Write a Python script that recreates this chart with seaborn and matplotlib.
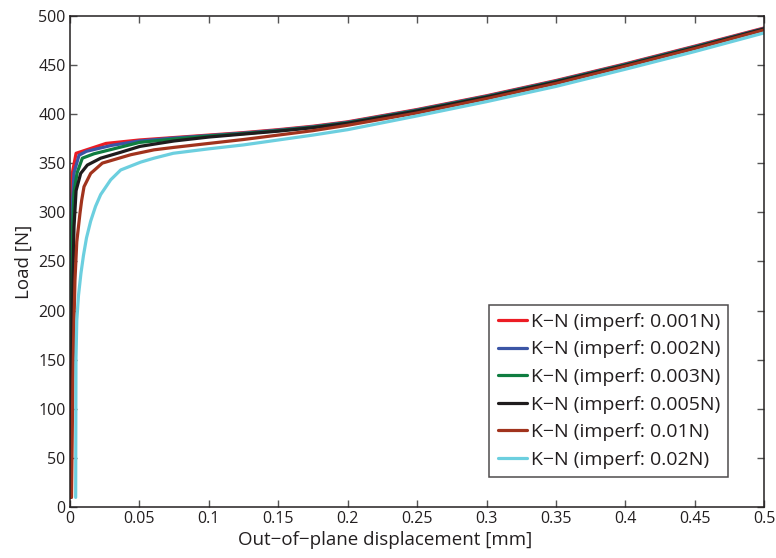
import numpy as np
import pandas as pd
import matplotlib
matplotlib.use("Agg")
import matplotlib.pyplot as plt
from matplotlib.ticker import FormatStrFormatter, MultipleLocator
import seaborn as sns

# Load vs. out-of-plane displacement for several force imperfections
labels = [
    "K−N (imperf: 0.001N)",
    "K−N (imperf: 0.002N)",
    "K−N (imperf: 0.003N)",
    "K−N (imperf: 0.005N)",
    "K−N (imperf: 0.01N)",
    "K−N (imperf: 0.02N)",
]
colors = ["#ec1c24", "#3b55a5", "#0f7d40", "#1f1c1d", "#a1331d", "#6ccfdf"]

disp_001 = [0.0002, 0.0004, 0.0009, 0.0018, 0.0045, 0.026, 0.05, 0.075, 0.10, 0.125, 0.15, 0.175, 0.20, 0.25, 0.30, 0.35, 0.40, 0.45, 0.50]
load_001 = [10, 200, 300, 340, 360, 370, 373.5, 376, 378.5, 381, 384, 387.5, 392, 404.5, 418.5, 434, 451, 469, 487.5]

disp_002 = [0.0003, 0.0007, 0.0015, 0.003, 0.0066, 0.012, 0.03, 0.05, 0.075, 0.10, 0.125, 0.15, 0.175, 0.20, 0.25, 0.30, 0.35, 0.40, 0.45, 0.50]
load_002 = [10, 200, 300, 340, 358, 362, 368, 372.5, 375.5, 378, 380.5, 383.5, 387, 391.5, 404, 418, 433.5, 450.5, 468.5, 487]

disp_003 = [0.0005, 0.001, 0.0018, 0.003, 0.0052, 0.009, 0.0174, 0.05, 0.075, 0.10, 0.125, 0.15, 0.175, 0.20, 0.25, 0.30, 0.35, 0.40, 0.45, 0.50]
load_003 = [10, 200, 280, 320, 340, 355, 359.5, 371, 374.5, 377.5, 380, 383, 386.5, 391, 403.5, 417.5, 433, 450, 468, 486.5]

disp_005 = [0.0008, 0.0012, 0.0022, 0.003, 0.0045, 0.0078, 0.0126, 0.0222, 0.0366, 0.0505, 0.075, 0.10, 0.125, 0.15, 0.175, 0.20, 0.25, 0.30, 0.35, 0.40, 0.45, 0.50]
load_005 = [10, 130, 231, 285, 322, 339.5, 348, 355, 361, 367, 372.5, 376.5, 379.5, 382.5, 386, 390.5, 403, 417, 432.5, 449.5, 467.5, 486.5]

disp_01 = [0.0012, 0.0022, 0.003, 0.0037, 0.005, 0.0073, 0.0085, 0.0102, 0.015, 0.0234, 0.0438, 0.0606, 0.075, 0.10, 0.125, 0.15, 0.175, 0.20, 0.25, 0.30, 0.35, 0.40, 0.45, 0.50]
load_01 = [10, 130, 190, 231, 270, 299, 312, 326, 339.5, 350, 358.5, 363.5, 366, 370, 374, 378.5, 383, 388.5, 401, 415.5, 431, 448.5, 466.5, 485.5]

disp_02 = [0.0042, 0.0044, 0.0050, 0.0062, 0.0080, 0.0098, 0.0120, 0.0150, 0.0185, 0.0222, 0.0294, 0.0366, 0.051, 0.0606, 0.0745, 0.10, 0.125, 0.15, 0.175, 0.20, 0.25, 0.30, 0.35, 0.40, 0.45, 0.50]
load_02 = [10, 150, 190, 215, 238, 256, 274, 291, 306, 318, 333, 343, 351, 355, 360, 364.5, 368.5, 373.5, 378.5, 384, 398, 412.5, 428, 445.5, 463.5, 482.5]

series = [
    (disp_001, load_001),
    (disp_002, load_002),
    (disp_003, load_003),
    (disp_005, load_005),
    (disp_01, load_01),
    (disp_02, load_02),
]

frames = []
for lab, (d, f) in zip(labels, series):
    frames.append(pd.DataFrame({"disp": d, "load": f, "case": lab}))
df = pd.concat(frames, ignore_index=True)

sns.set_style("white")
plt.rcParams["font.family"] = ["Open Sans", "DejaVu Sans"]

fig = plt.figure(figsize=(7.76, 5.58), dpi=100)
ax = fig.add_axes([0.09, 0.091, 0.895, 0.881])

sns.lineplot(data=df, x="disp", y="load", hue="case", hue_order=labels,
             palette=colors, sort=False, estimator=None, units="case",
             linewidth=2.3, ax=ax, legend=False)

ax.set_xlim(0, 0.5)
ax.set_ylim(0, 500)
ax.xaxis.set_major_locator(MultipleLocator(0.05))
ax.yaxis.set_major_locator(MultipleLocator(50))
ax.xaxis.set_major_formatter(FormatStrFormatter("%g"))
ax.yaxis.set_major_formatter(FormatStrFormatter("%g"))
ax.tick_params(direction="in", length=5, width=1, colors="#555555",
               labelcolor="#231f20", labelsize=11.5, top=True, right=True,
               bottom=True, left=True, pad=3)
for s in ax.spines.values():
    s.set_color("#231f20")
    s.set_linewidth(1.1)

ax.set_xlabel("Out−of−plane displacement [mm]", fontsize=13.5,
              color="#231f20", labelpad=3)
ax.xaxis.set_label_coords(0.454, -0.048, transform=ax.transAxes)
ax.xaxis.label.set_va("top")
ax.set_ylabel("Load [N]", fontsize=13.5, color="#231f20", labelpad=4)

handles = [plt.Line2D([], [], color=c, linewidth=2.3) for c in colors]
leg = ax.legend(handles, labels, loc="lower right",
                bbox_to_anchor=(0.948, 0.062), fontsize=14,
                frameon=True, fancybox=False, handlelength=1.5,
                handletextpad=0.2, labelspacing=0.49, borderpad=0.42,
                borderaxespad=0)
leg.get_frame().set_edgecolor("#231f20")
leg.get_frame().set_linewidth(1.1)
for t in leg.get_texts():
    t.set_color("#231f20")

fig.savefig("out.png", dpi=100)
